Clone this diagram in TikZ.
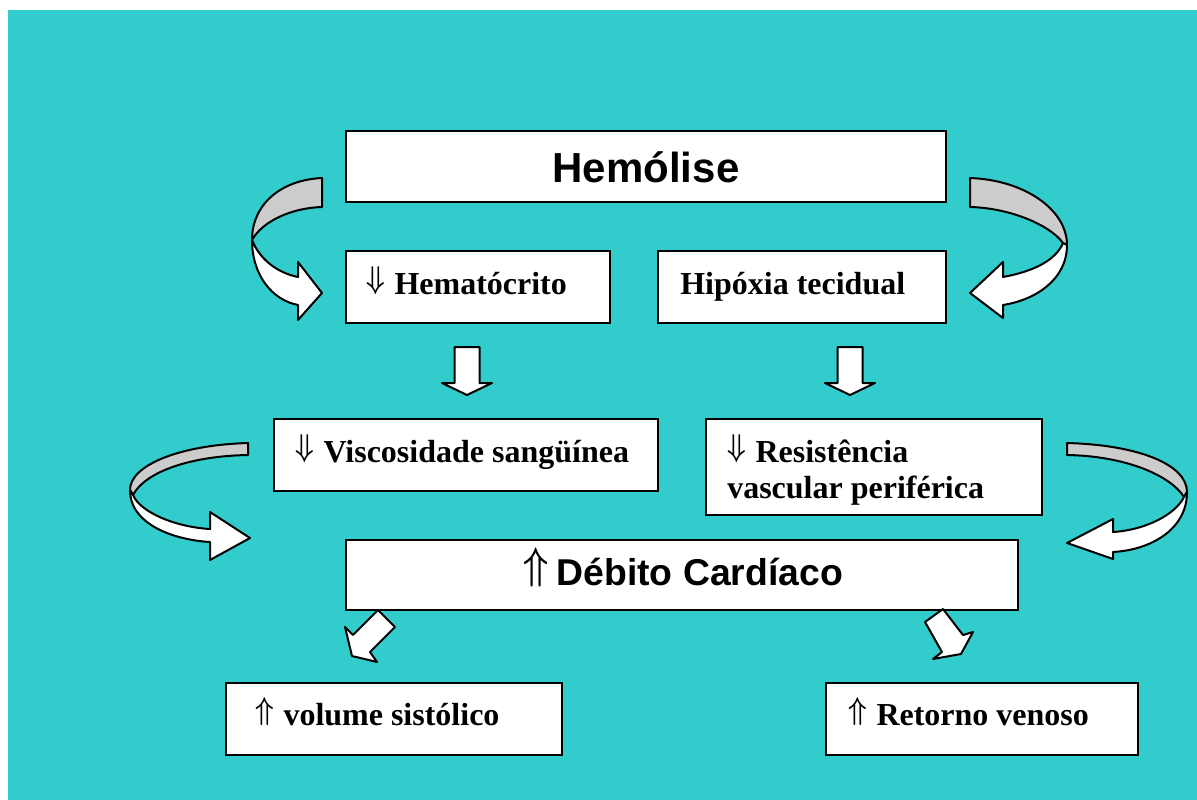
\documentclass[tikz,border=0pt]{standalone}
\usepackage{fontspec}
\setmainfont{Liberation Serif}
\newfontfamily\arialf{Liberation Sans}
\definecolor{teal0}{RGB}{51,204,204}
\definecolor{band}{RGB}{204,204,204}
\newcommand\dnar{\raisebox{0.18em}{\scalebox{0.8}[0.95]{\boldmath$\Downarrow$}}\hspace{0.3em}}
\newcommand\upar{\raisebox{0.18em}{\scalebox{0.8}[0.95]{\boldmath$\Uparrow$}}\hspace{0.3em}}
\newcommand\bigupar{\raisebox{0.17em}{\scalebox{1.08}[1.33]{\boldmath$\Uparrow$}}\hspace{0.22em}}
\begin{document}
\begin{tikzpicture}[x=0.75pt,y=-0.75pt,
  box/.style={draw=black,line width=1.8pt,fill=white,inner sep=0pt,outer sep=0pt},
  lbl/.style={anchor=base west,inner sep=0pt,font=\bfseries\fontsize{24}{28}\selectfont},
  big/.style={anchor=base,inner sep=0pt,font=\arialf\bfseries},
  shp/.style={draw=black,line width=1.5pt,line join=round,fill=white},
  gry/.style={draw=black,line width=1.5pt,line join=round,fill=band}]
\useasboundingbox (0,0) rectangle (1197,800);
\fill[white] (0,0) rectangle (1197,800);
\fill[teal0] (8,10) rectangle (1197,800);

% boxes
\node[box,minimum width=450pt,minimum height=53.25pt] (hemo) at (646,166.5) {};
\node[box,minimum width=198pt,minimum height=54pt] (hema) at (478,287) {};
\node[box,minimum width=216pt,minimum height=54pt] (hipo) at (802,287) {};
\node[box,minimum width=288pt,minimum height=54pt] (visc) at (466,455) {};
\node[box,minimum width=252pt,minimum height=72pt] (resi) at (874,467) {};
\node[box,minimum width=504pt,minimum height=52.5pt] (debi) at (682,575) {};
\node[box,minimum width=252pt,minimum height=54pt] (volu) at (394,719) {};
\node[box,minimum width=234pt,minimum height=54pt] (reto) at (982,719) {};

% texts
\node[big,font=\arialf\bfseries\fontsize{31.5}{36}\selectfont] (themo) at (646,182) {Hemólise};
\node[lbl] (thema) at (366,294) {\dnar Hematócrito};
\node[lbl] (thipo) at (680,294) {Hipóxia tecidual};
\node[lbl] (tvisc) at (295,462) {\dnar Viscosidade sangüínea};
\node[lbl] (tresi1) at (727,462) {\dnar Resistência};
\node[lbl] (tresi2) at (727,498) {vascular periférica};
\node[big,anchor=base west,font=\arialf\bfseries\fontsize{28}{32}\selectfont] (tdebi) at (523,585) {\bigupar Débito Cardíaco};
\node[lbl] (tvolu) at (255,725) {\upar volume sistólico};
\node[lbl] (treto) at (848,725) {\upar Retorno venoso};

% straight block arrows
\draw[shp] (454.5,347) -- (479.5,347) -- (479.5,383) -- (492,383) -- (467,395) -- (442,383) -- (454.5,383) -- cycle;
\draw[shp] (837.5,347) -- (862.5,347) -- (862.5,383) -- (875,383) -- (850,395) -- (825,383) -- (837.5,383) -- cycle;

% diagonal block arrows
\draw[shp] (378,610) -- (395,627) -- (370,652) -- (377,662) -- (352,656) -- (345,627) -- (353,635) -- cycle;
\draw[shp] (925,622) -- (943,609) -- (963,635) -- (973,632) -- (961,654) -- (933,659) -- (942,652) -- cycle;

% top-left curved arrow
\draw[gry] (322,178) .. controls (280,180) and (252,205) .. (252,240)
  .. controls (262,222) and (290,208) .. (322,207) -- cycle;
\draw[shp] (252,240) .. controls (252,275) and (272,300) .. (298,305)
  -- (298,320) -- (322,293) -- (298,262) -- (298,277)
  .. controls (278,273) and (260,260) .. (252,240) -- cycle;

% top-right curved arrow
\draw[gry] (970,178) .. controls (1025,180) and (1067,210) .. (1067,245)
  -- (1063,243) .. controls (1050,225) and (1010,208) .. (970,207) -- cycle;
\draw[shp] (1067,245) .. controls (1067,280) and (1035,300) .. (1003,305)
  -- (1003,318) -- (970,293) -- (1003,262) -- (1003,277)
  .. controls (1030,272) and (1055,262) .. (1063,243) -- cycle;

% middle-left curved arrow
\draw[gry] (248,443) .. controls (180,445) and (130,465) .. (130,490)
  -- (133,495) .. controls (145,472) and (190,456) .. (248,455) -- cycle;
\draw[shp] (130,490) .. controls (130,525) and (175,540) .. (210,542)
  -- (210,560) -- (250,538) -- (210,512) -- (210,529)
  .. controls (175,527) and (140,512) .. (133,495) -- cycle;

% middle-right curved arrow
\draw[gry] (1067,443) .. controls (1140,445) and (1187,465) .. (1187,492)
  -- (1184,497) .. controls (1170,475) and (1125,456) .. (1067,455) -- cycle;
\draw[shp] (1187,492) .. controls (1187,530) and (1150,550) .. (1113,552)
  -- (1113,559) -- (1067,543) -- (1113,519) -- (1113,532)
  .. controls (1145,530) and (1175,515) .. (1184,497) -- cycle;
\end{tikzpicture}
\end{document}
